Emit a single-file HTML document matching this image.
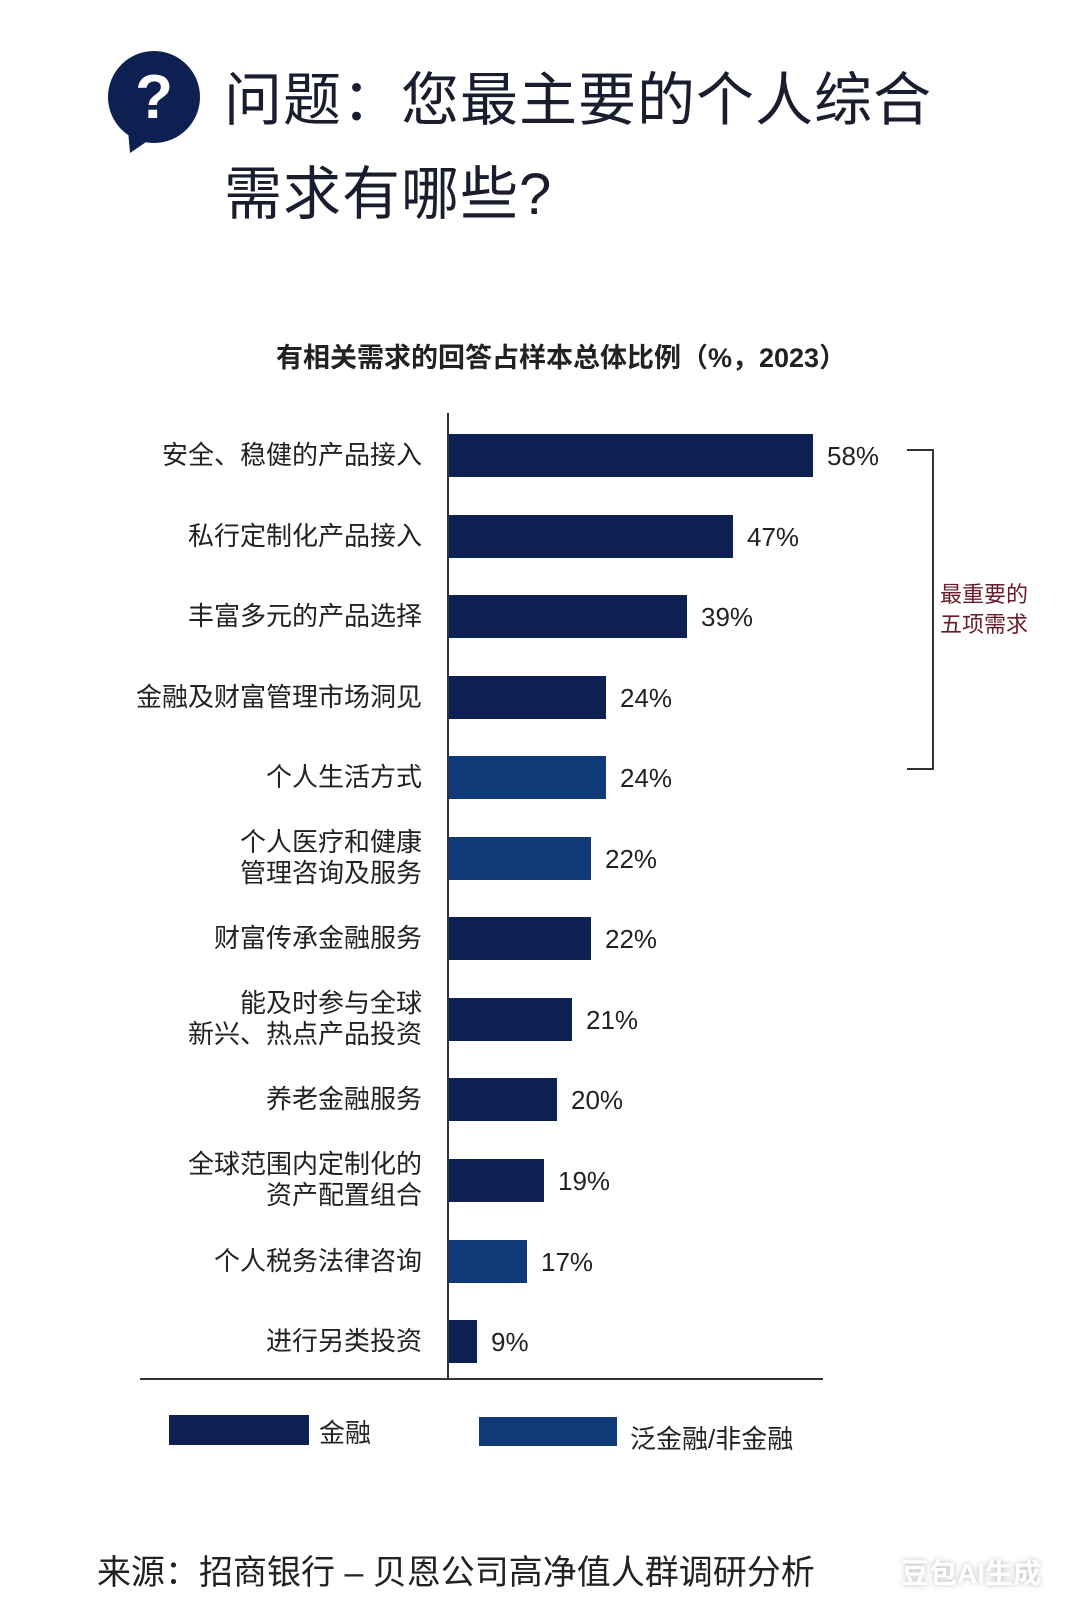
<!DOCTYPE html>
<html><head><meta charset="utf-8"><style>
*{margin:0;padding:0;box-sizing:border-box}
body{width:1080px;height:1620px;background:#fff;position:relative;overflow:hidden;font-family:"Liberation Sans","Noto Sans CJK SC",sans-serif;color:#1a1d2e}
.a{position:absolute;white-space:nowrap}
.t{font-size:58px;letter-spacing:1px;line-height:1}
.bar{position:absolute;height:43px;background:#0e1f52}
.lb{position:absolute;right:658px;text-align:right;font-size:26px;line-height:31px;color:#222}
.v{position:absolute;font-size:26px;color:#222;line-height:1}
</style></head><body>
<svg class="a" style="left:100px;top:40px" width="110" height="120">
<circle cx="54" cy="57" r="46" fill="#0e1f52"/>
<path d="M28 90 L30 113 L52 98 Z" fill="#0e1f52"/>
<text x="54" y="78" font-size="62" font-weight="bold" fill="#fff" text-anchor="middle" font-family="Liberation Sans, sans-serif">?</text>
</svg>
<div class="a t" style="left:224px;top:72px">问题：您最主要的个人综合</div>
<div class="a t" style="left:224px;top:166px">需求有哪些?</div>
<div class="a" style="left:276px;top:336px;font-size:27px;font-weight:bold;color:#222">有相关需求的回答占样本总体比例（%，2023）</div>
<div class="a" style="left:447px;top:413px;width:2px;height:966px;background:#333"></div>
<div class="a" style="left:140px;top:1378px;width:683px;height:2px;background:#333"></div>

<div class="bar" style="left:449px;top:434px;width:364px"></div><div class="v" style="left:827px;top:443px">58%</div>
<div class="lb" style="top:440px">安全、稳健的产品接入</div>
<div class="bar" style="left:449px;top:515px;width:284px"></div><div class="v" style="left:747px;top:524px">47%</div>
<div class="lb" style="top:521px">私行定制化产品接入</div>
<div class="bar" style="left:449px;top:595px;width:238px"></div><div class="v" style="left:701px;top:604px">39%</div>
<div class="lb" style="top:601px">丰富多元的产品选择</div>
<div class="bar" style="left:449px;top:676px;width:157px"></div><div class="v" style="left:620px;top:685px">24%</div>
<div class="lb" style="top:682px">金融及财富管理市场洞见</div>
<div class="bar" style="left:449px;top:756px;width:157px;background:#0f3a77"></div><div class="v" style="left:620px;top:765px">24%</div>
<div class="lb" style="top:762px">个人生活方式</div>
<div class="bar" style="left:449px;top:837px;width:142px;background:#0f3a77"></div><div class="v" style="left:605px;top:846px">22%</div>
<div class="lb" style="top:827px">个人医疗和健康<br>管理咨询及服务</div>
<div class="bar" style="left:449px;top:917px;width:142px"></div><div class="v" style="left:605px;top:926px">22%</div>
<div class="lb" style="top:923px">财富传承金融服务</div>
<div class="bar" style="left:449px;top:998px;width:123px"></div><div class="v" style="left:586px;top:1007px">21%</div>
<div class="lb" style="top:988px">能及时参与全球<br>新兴、热点产品投资</div>
<div class="bar" style="left:449px;top:1078px;width:108px"></div><div class="v" style="left:571px;top:1087px">20%</div>
<div class="lb" style="top:1084px">养老金融服务</div>
<div class="bar" style="left:449px;top:1159px;width:95px"></div><div class="v" style="left:558px;top:1168px">19%</div>
<div class="lb" style="top:1149px">全球范围内定制化的<br>资产配置组合</div>
<div class="bar" style="left:449px;top:1240px;width:78px;background:#0f3a77"></div><div class="v" style="left:541px;top:1249px">17%</div>
<div class="lb" style="top:1246px">个人税务法律咨询</div>
<div class="bar" style="left:449px;top:1320px;width:28px"></div><div class="v" style="left:491px;top:1329px">9%</div>
<div class="lb" style="top:1326px">进行另类投资</div>

<div class="a" style="left:907px;top:449px;width:27px;height:321px;border:2px solid #333;border-left:none"></div>
<div class="a" style="left:940px;top:580px;font-size:22px;line-height:30px;color:#6b1a2a">最重要的<br>五项需求</div>

<div class="a" style="left:169px;top:1415px;width:140px;height:30px;background:#0e1f52"></div>
<div class="a" style="left:319px;top:1413px;font-size:26px;color:#222">金融</div>
<div class="a" style="left:479px;top:1417px;width:138px;height:29px;background:#0f3a77"></div>
<div class="a" style="left:630px;top:1419px;font-size:26px;color:#222">泛金融/非金融</div>

<div class="a" style="left:97px;top:1545px;font-size:34px;color:#222">来源：招商银行 – 贝恩公司高净值人群调研分析</div>
<div class="a" style="left:901px;top:1552px;font-size:28px;font-weight:bold;color:#fff;text-shadow:0 0 6px #bbb">豆包AI生成</div>
</body></html>
